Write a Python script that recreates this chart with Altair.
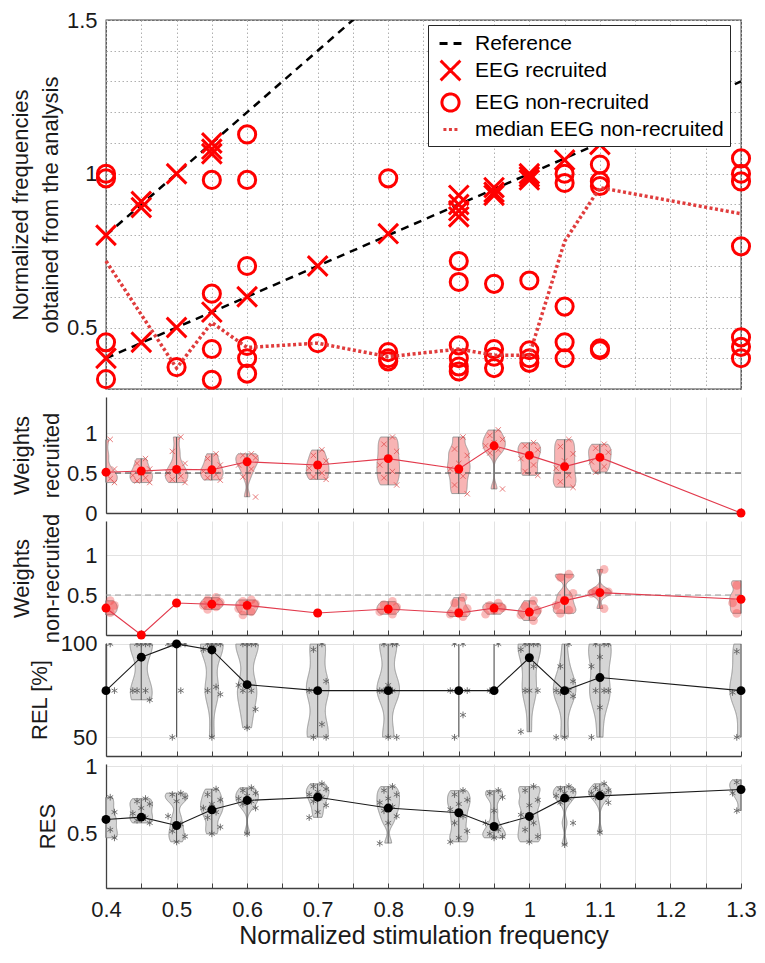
import altair as alt
import pandas as pd

FONT = "Liberation Sans"
AX = "#404040"
GRID = "#e2e2e2"
W = 635

X_DOMAIN = [0.4, 1.3]
X_LABEL_VALUES = [0.4, 0.5, 0.6, 0.7, 0.8, 0.9, 1.0, 1.1, 1.2, 1.3]
X_GRID_VALUES = [0.4, 0.45, 0.5, 0.55, 0.6, 0.65, 0.7, 0.75, 0.8, 0.85, 0.9, 0.95,
                 1.0, 1.05, 1.1, 1.15, 1.2, 1.25, 1.3]
GROUPS = [0.4, 0.45, 0.5, 0.55, 0.6, 0.7, 0.8, 0.9, 0.95, 1.0, 1.05, 1.1, 1.3]

# ---------------- top panel ----------------
SERIES = ["Reference", "EEG recruited", "EEG non-recruited", "median EEG non-recruited"]
SERIES_COLORS = ["#000000", "#ff0000", "#ff0000", "#e03c3c"]
X_PATH = "M-1,-1L1,1M-1,1L1,-1"
STAR_PATH = "M0,-1L0,1M-0.87,-0.5L0.87,0.5M-0.87,0.5L0.87,-0.5"
SERIES_SHAPES = ["stroke", X_PATH, "circle", "stroke"]
SERIES_DASH = [[8, 6], [1, 0], [1, 0], [3, 2.5]]
SERIES_SIZE = [480, 200, 280, 480]

Y1_DOMAIN = [0.3, 1.5]
Y1_GRID = [0.3, 0.4, 0.5, 0.6, 0.7, 0.8, 0.9, 1.0, 1.1, 1.2, 1.3, 1.4, 1.5]

REF_SLOPES = [1, 2]
REF_X_ENDS = [0.4, 1.3]

REC_X = [0.4, 0.4, 0.45, 0.45, 0.45, 0.5, 0.5, 0.55, 0.55, 0.55, 0.55, 0.6, 0.7, 0.8,
         0.9, 0.9, 0.9, 0.9, 0.95, 0.95, 0.95, 1.0, 1.0, 1.0, 1.05, 1.1]
REC_Y = [0.8, 0.4, 0.91, 0.89, 0.452, 1.0, 0.5, 1.1, 1.08, 1.065, 0.55, 0.6, 0.7, 0.805,
         0.93, 0.9, 0.88, 0.86, 0.955, 0.94, 0.93, 1.0, 0.99, 0.98, 1.045, 1.095]

NONREC_X = [0.4, 0.4, 0.4, 0.4, 0.5, 0.55, 0.55, 0.55, 0.55,
            0.6, 0.6, 0.6, 0.6, 0.6, 0.6, 0.7, 0.8, 0.8, 0.8, 0.8,
            0.9, 0.9, 0.9, 0.9, 0.9, 0.9, 0.95, 0.95, 0.95, 0.95,
            1.0, 1.0, 1.0, 1.0, 1.05, 1.05, 1.05, 1.05, 1.05,
            1.1, 1.1, 1.1, 1.1, 1.1, 1.3, 1.3, 1.3, 1.3, 1.3, 1.3, 1.3]
NONREC_Y = [1.0, 0.985, 0.452, 0.332, 0.371, 0.98, 0.61, 0.43, 0.33,
            1.128, 0.98, 0.70, 0.44, 0.40, 0.35, 0.449, 0.985, 0.42, 0.40, 0.39,
            0.716, 0.648, 0.442, 0.40, 0.373, 0.357, 0.642, 0.43, 0.405, 0.368,
            0.653, 0.426, 0.40, 0.385, 1.0, 0.97, 0.568, 0.452, 0.40,
            1.03, 0.975, 0.96, 0.432, 0.426, 1.05, 1.0, 0.975, 0.764, 0.468, 0.437, 0.40]

MED_X = [0.4, 0.5, 0.55, 0.6, 0.7, 0.8, 0.9, 0.95, 1.0, 1.05, 1.1, 1.3]
MED_Y = [0.716, 0.368, 0.516, 0.435, 0.449, 0.405, 0.43, 0.41, 0.41, 0.78, 0.955, 0.87]

# ---------------- weights recruited ----------------
W_REC = {
    0.4: [0.92, 0.72, 0.55, 0.50, 0.46, 0.43, 0.40, 0.38],
    0.45: [0.68, 0.62, 0.55, 0.50, 0.47, 0.44, 0.40, 0.38],
    0.5: [0.95, 0.77, 0.62, 0.55, 0.50, 0.46, 0.42, 0.38],
    0.55: [0.74, 0.68, 0.60, 0.55, 0.52, 0.48, 0.44, 0.41],
    0.6: [0.74, 0.72, 0.69, 0.65, 0.60, 0.55, 0.45, 0.20],
    0.7: [0.79, 0.72, 0.65, 0.60, 0.56, 0.50, 0.45, 0.42],
    0.8: [0.95, 0.86, 0.77, 0.68, 0.60, 0.52, 0.44, 0.35],
    0.9: [0.95, 0.80, 0.72, 0.62, 0.55, 0.46, 0.35, 0.24],
    0.95: [1.04, 0.97, 0.92, 0.88, 0.84, 0.79, 0.75, 0.30],
    1.0: [0.88, 0.84, 0.79, 0.74, 0.68, 0.60, 0.52, 0.47],
    1.05: [0.92, 0.83, 0.74, 0.65, 0.56, 0.47, 0.39, 0.32],
    1.1: [0.86, 0.81, 0.76, 0.70, 0.64, 0.58, 0.51],
    1.3: [0.0],
}
W_REC_MEAN = [0.51, 0.525, 0.545, 0.54, 0.64, 0.60, 0.68, 0.55, 0.84, 0.72, 0.58, 0.695, 0.0]

# ---------------- weights non-recruited ----------------
W_NON = {
    0.4: [0.43, 0.40, 0.37, 0.34, 0.31, 0.28, 0.25],
    0.45: [0.0],
    0.5: [0.40],
    0.55: [0.47, 0.44, 0.41, 0.39, 0.37, 0.35, 0.32],
    0.6: [0.44, 0.42, 0.39, 0.36, 0.33, 0.29, 0.25],
    0.7: [0.275],
    0.8: [0.42, 0.38, 0.35, 0.32, 0.29, 0.26],
    0.9: [0.47, 0.40, 0.33, 0.29, 0.26, 0.23],
    0.95: [0.40, 0.37, 0.34, 0.31, 0.26],
    1.0: [0.43, 0.36, 0.31, 0.28, 0.25, 0.18],
    1.05: [0.76, 0.72, 0.52, 0.44, 0.37, 0.31, 0.27],
    1.1: [0.82, 0.55, 0.54, 0.53, 0.52, 0.33],
    1.3: [0.68, 0.62, 0.52, 0.46, 0.40, 0.33, 0.27],
}
W_NON_MEAN = [0.337, 0.0, 0.40, 0.385, 0.37, 0.275, 0.325, 0.275, 0.336, 0.287, 0.43, 0.53, 0.447]

REF_LEVEL = 0.5

# ---------------- REL ----------------
REL = {
    0.4: [100, 92, 75],
    0.45: [100, 100, 100, 100, 75, 75, 75, 70],
    0.5: [100, 100, 100, 100, 100, 75, 50],
    0.55: [100, 100, 100, 100, 97, 77, 75, 73, 50],
    0.6: [100, 100, 100, 100, 78, 75, 75, 65, 55],
    0.7: [100, 97, 80, 75, 75, 57, 50, 50],
    0.8: [100, 100, 100, 78, 75, 75, 75, 50, 50],
    0.9: [100, 100, 75, 75, 75, 62, 50],
    0.95: [100, 75],
    1.0: [100, 100, 100, 100, 97, 88, 75, 75, 75, 53],
    1.05: [100, 88, 80, 76, 75, 75, 74, 72, 50, 50],
    1.1: [100, 100, 100, 93, 88, 75, 75, 75, 66, 50],
    1.3: [100, 96, 86, 75, 74, 72, 50],
}
REL_MEAN = [75, 92.9, 100, 96.8, 78.2, 75, 75, 75, 75, 92.6, 75, 82, 75]
REL_NO_VIOLIN = [0.4, 0.5, 0.9, 0.95]

# ---------------- RES ----------------
RES = {
    0.4: [0.77, 0.72, 0.66, 0.61, 0.58, 0.53, 0.49, 0.47],
    0.45: [0.76, 0.74, 0.72, 0.69, 0.65, 0.62, 0.60, 0.58],
    0.5: [0.80, 0.79, 0.77, 0.74, 0.63, 0.57, 0.52, 0.48, 0.44],
    0.55: [0.83, 0.79, 0.75, 0.72, 0.69, 0.66, 0.62, 0.55, 0.50],
    0.6: [0.84, 0.82, 0.80, 0.78, 0.76, 0.74, 0.72, 0.69, 0.50],
    0.7: [0.87, 0.85, 0.83, 0.81, 0.79, 0.77, 0.74, 0.71, 0.66, 0.62],
    0.8: [0.85, 0.82, 0.79, 0.76, 0.73, 0.70, 0.67, 0.63, 0.58, 0.43],
    0.9: [0.82, 0.79, 0.75, 0.72, 0.68, 0.63, 0.58, 0.52, 0.47, 0.44],
    0.95: [0.82, 0.80, 0.77, 0.67, 0.58, 0.53, 0.50, 0.48, 0.47],
    1.0: [0.85, 0.82, 0.75, 0.71, 0.64, 0.58, 0.53, 0.48, 0.44],
    1.05: [0.85, 0.83, 0.82, 0.80, 0.78, 0.76, 0.73, 0.58, 0.42],
    1.1: [0.87, 0.84, 0.82, 0.81, 0.80, 0.79, 0.77, 0.73, 0.51],
    1.3: [0.90, 0.88, 0.86, 0.84, 0.80, 0.77, 0.67],
}
RES_MEAN = [0.606, 0.623, 0.561, 0.677, 0.746, 0.77, 0.69, 0.655, 0.554, 0.628, 0.763, 0.78, 0.827]

XS = alt.Scale(domain=X_DOMAIN, nice=False, zero=False)


def y_axis(title, values, title_x, extra=None):
    kw = dict(values=values, format="~r", title=title, titleX=title_x, titleAngle=270,
              titleBaseline="alphabetic", titleAlign="center", titleLineHeight=30,
              titleFontSize=22, labelFontSize=22, labelPadding=9, ticks=False,
              domain=True, domainColor=AX, domainWidth=1.3, grid=True, gridColor=GRID)
    if extra:
        kw.update(extra)
    return alt.Axis(**kw)


def tick_axis(H, grid=True):
    return alt.Axis(orient="top", offset=-H, values=X_GRID_VALUES, labels=False, ticks=True,
                    tickSize=5, tickColor=AX, tickWidth=1, domain=True, domainColor=AX,
                    domainWidth=1.3, grid=grid, gridColor=GRID, title=None)


# ---------------- top panel build ----------------
H1 = 369
ys1 = alt.Scale(domain=Y1_DOMAIN, nice=False, zero=False)
cscale = alt.Scale(domain=SERIES, range=SERIES_COLORS)
dscale = alt.Scale(domain=SERIES, range=SERIES_DASH)
shscale = alt.Scale(domain=SERIES, range=SERIES_SHAPES)
szscale = alt.Scale(domain=SERIES, range=SERIES_SIZE)
LEG = alt.Legend(title=None, orient="none", legendX=322, legendY=5, labelFont=FONT,
                 labelFontSize=21, labelColor="#000000", symbolStrokeWidth=3, padding=6,
                 rowPadding=0, strokeColor="#262626", fillColor="#ffffff", labelOffset=12,
                 symbolOffset=4, labelLimit=400)

ref_rows = []
for i, s in enumerate(REF_SLOPES):
    for xv in REF_X_ENDS:
        ref_rows.append({"x": xv, "y": xv * s, "line": i, "series": SERIES[0]})
df_ref = pd.DataFrame(ref_rows)
df_pts = pd.DataFrame({
    "x": REC_X + NONREC_X,
    "y": REC_Y + NONREC_Y,
    "series": [SERIES[1]] * len(REC_X) + [SERIES[2]] * len(NONREC_X),
})
df_med = pd.DataFrame({"x": MED_X, "y": MED_Y, "series": SERIES[3]})

top_x_axis = alt.Axis(orient="bottom", values=X_GRID_VALUES, labels=False, ticks=False,
                      domain=False, grid=True, gridDash=[1.5, 2.5], gridColor="#b0b0b0",
                      title=None)
top_y_axis = y_axis(["Normalized frequencies", "obtained from the analysis"], Y1_GRID, -79,
                    {"labelExpr": "(datum.value == 0.5 || datum.value == 1 || datum.value == 1.5) ? datum.label : ''",
                     "domain": False, "gridDash": [1.5, 2.5], "gridColor": "#b0b0b0"})

ref_layer = alt.Chart(df_ref).mark_line(strokeWidth=2.5, clip=True).encode(
    x=alt.X("x:Q", scale=XS, axis=top_x_axis),
    y=alt.Y("y:Q", scale=ys1, axis=top_y_axis),
    detail="line:N",
    color=alt.Color("series:N", scale=cscale, legend=LEG),
    strokeDash=alt.StrokeDash("series:N", scale=dscale, legend=LEG),
)
med_layer = alt.Chart(df_med).mark_line(strokeWidth=3.5).encode(
    x=alt.X("x:Q", scale=XS, axis=None),
    y=alt.Y("y:Q", scale=ys1, axis=None),
    color=alt.Color("series:N", scale=cscale, legend=LEG),
    strokeDash=alt.StrokeDash("series:N", scale=dscale, legend=LEG),
)
pts_layer = alt.Chart(df_pts).mark_point(filled=False, strokeWidth=3, opacity=1).encode(
    x=alt.X("x:Q", scale=XS, axis=None),
    y=alt.Y("y:Q", scale=ys1, axis=None),
    color=alt.Color("series:N", scale=cscale, legend=LEG),
    shape=alt.Shape("series:N", scale=shscale, legend=LEG),
    size=alt.Size("series:N", scale=szscale, legend=LEG),
)
p1 = alt.layer(ref_layer, pts_layer, med_layer).resolve_axis(
    x="independent", y="independent"
).properties(width=W, height=H1, view=alt.ViewBackground(stroke=AX, strokeWidth=1.3))


# ---------------- violin panel builder ----------------
def violin_panel(samples, means, ydom, H, yax, fill, outline, marker, mean_color, line_color,
                 bw, hw=0.016, jit=0.006, ref_color=None, no_violin=(), bottom=False):
    df = pd.DataFrame([(g, v) for g, vals in samples.items() for v in vals], columns=["g", "v"])
    dfm = pd.DataFrame({"g": GROUPS, "m": means})
    ys = alt.Scale(domain=ydom, nice=False, zero=False)
    base = alt.Chart(df)
    nv = "[" + ",".join(str(v) for v in no_violin) + "]"

    if bottom:
        first_x_axis = alt.Axis(orient="bottom", values=X_LABEL_VALUES, format="~r",
                                labelFlush=False, ticks=False, domain=False, grid=False,
                                labelFontSize=22, labelPadding=11,
                                title="Normalized stimulation frequency", titleFontSize=25,
                                titlePadding=3)
    else:
        first_x_axis = None
    last_x_axis = tick_axis(H, grid=True)

    area = base.transform_joinaggregate(
        vmin="min(v)", vmax="max(v)", n="count()", groupby=["g"]
    ).transform_filter(
        f"datum.n >= 3 && indexof({nv}, datum.g) < 0"
    ).transform_density(
        "v", groupby=["g", "vmin", "vmax"], extent=ydom, steps=400, bandwidth=bw,
        as_=["val", "dens"]
    ).transform_filter(
        "datum.val >= datum.vmin - 1e-9 && datum.val <= datum.vmax + 1e-9"
    ).transform_joinaggregate(
        dmax="max(dens)", groupby=["g"]
    ).transform_calculate(
        xl=f"datum.g - {hw} * datum.dens / datum.dmax",
        xr=f"datum.g + {hw} * datum.dens / datum.dmax",
    ).mark_area(orient="horizontal", fill=fill, stroke=outline, strokeWidth=0.8,
                clip=True).encode(
        y=alt.Y("val:Q", scale=ys, axis=yax),
        x=alt.X("xl:Q", scale=XS, axis=first_x_axis),
        x2="xr:Q",
        detail="g:N",
    )

    whisk = base.transform_aggregate(
        vmin="min(v)", vmax="max(v)", n="count()", groupby=["g"]
    ).transform_filter("datum.n >= 2").mark_rule(color="#5a5a5a", strokeWidth=1.1).encode(
        x=alt.X("g:Q", scale=XS, axis=None),
        y=alt.Y("vmin:Q", scale=ys, axis=None),
        y2="vmax:Q",
    )

    jbase = base.transform_joinaggregate(n="count()", groupby=["g"]).transform_window(
        r="row_number()", groupby=["g"]
    ).transform_calculate(
        xj=f"datum.n == 1 ? datum.g : datum.g + ((datum.r * 3) % 5 - 2) * {jit}"
    )
    if marker == "x":
        mk = jbase.mark_point(shape=X_PATH, size=28, strokeWidth=0.8, color="#e04848",
                              filled=False, opacity=0.9, clip=True)
    elif marker == "dot":
        mk = jbase.mark_circle(size=75, color="#f03a3a", opacity=0.35, clip=True)
    else:
        mk = jbase.mark_point(shape=STAR_PATH, size=45, strokeWidth=0.9, color="#555555",
                              filled=False, opacity=0.9, clip=True)
    mk = mk.encode(x=alt.X("xj:Q", scale=XS, axis=None), y=alt.Y("v:Q", scale=ys, axis=None))

    layers = [area, whisk, mk]
    if ref_color:
        ref = alt.Chart(pd.DataFrame({"y": [REF_LEVEL]})).mark_rule(
            strokeDash=[6, 4], color=ref_color, strokeWidth=1.2
        ).encode(y=alt.Y("y:Q", scale=ys, axis=None))
        layers.append(ref)

    mline = alt.Chart(dfm).mark_line(color=line_color, strokeWidth=1.1).encode(
        x=alt.X("g:Q", scale=XS, axis=None), y=alt.Y("m:Q", scale=ys, axis=None))
    mdots = alt.Chart(dfm).mark_circle(size=80, color=mean_color, opacity=1).encode(
        x=alt.X("g:Q", scale=XS, axis=last_x_axis), y=alt.Y("m:Q", scale=ys, axis=None))
    layers += [mline, mdots]
    return alt.layer(*layers).resolve_axis(x="independent", y="independent").properties(
        width=W, height=H)


W_TITLE_REC = ["\u2003\u2002Weights", "recruited"]
W_TITLE_NON = ["\u2003\u2002Weights", "non-recruited"]

p2 = violin_panel(W_REC, W_REC_MEAN, [0, 1.45], 116,
                  y_axis(W_TITLE_REC, [0, 0.5, 1], -78),
                  "#f8b4b4", "#8a8a8a", "x", "#ff0000", "#e23a4c", 0.07,
                  ref_color="#3a3a3a")
p3 = violin_panel(W_NON, W_NON_MEAN, [0, 1.425], 114,
                  y_axis(W_TITLE_NON, [0, 0.5, 1], -78, {"labelExpr": "datum.value == 0 ? '' : datum.label"}),
                  "#f8b4b4", "#8a8a8a", "dot", "#ff0000", "#e23a4c", 0.05,
                  ref_color="#9a9a9a")
p4 = violin_panel(REL, REL_MEAN, [40, 100.5], 113,
                  y_axis("REL [%]", [50, 100], -60),
                  "#d5d5d5", "#808080", "star", "#000000", "#1a1a1a", 8.0,
                  no_violin=REL_NO_VIOLIN)
p5 = violin_panel(RES, RES_MEAN, [0.1, 1.015], 124,
                  y_axis("RES", [0.5, 1], -52),
                  "#d5d5d5", "#808080", "star", "#000000", "#1a1a1a", 0.04,
                  bottom=True)

chart = alt.vconcat(p1, p2, p3, p4, p5, spacing=8, bounds="flush").properties(
    padding={"left": 0, "top": 0, "right": 0, "bottom": 0}
).configure_view(stroke="transparent").configure_axis(
    labelFont=FONT, titleFont=FONT, labelColor="#1a1a1a", titleColor="#1a1a1a",
    titleFontWeight="normal"
).configure_legend(labelFont=FONT)

chart.save("out.html", embed_options={"renderer": "svg", "actions": False})
